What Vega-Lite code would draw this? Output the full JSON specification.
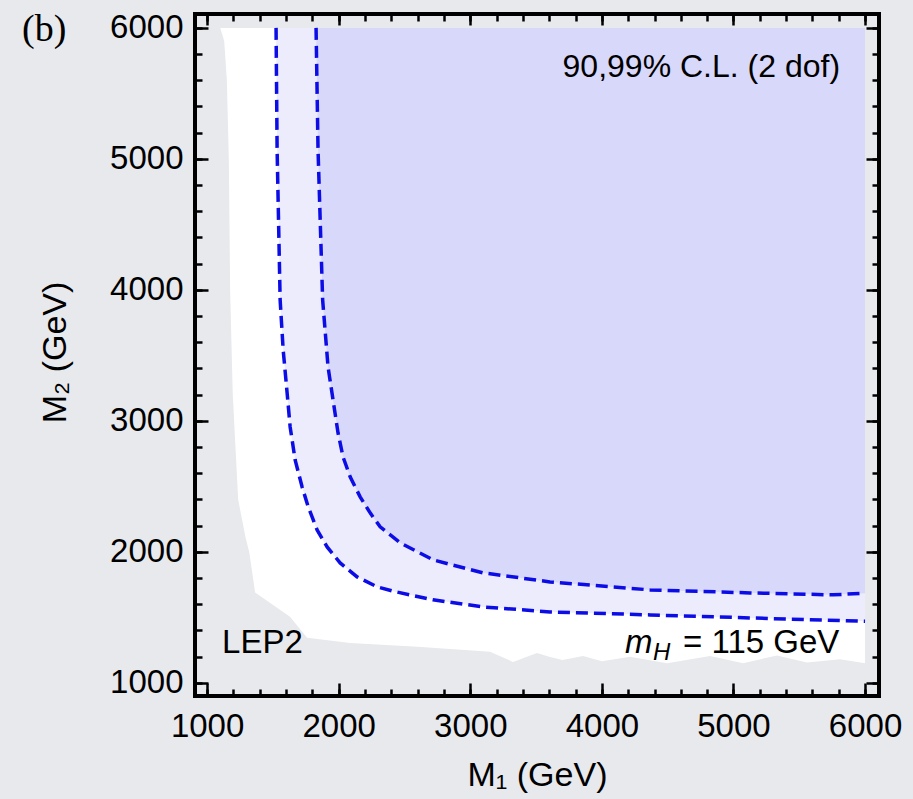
{
  "$schema": "https://vega.github.io/schema/vega-lite/v6.json",
  "width": 684,
  "height": 682,
  "autosize": {"type": "none"},
  "padding": {"left": 195, "top": 14, "right": 34, "bottom": 103},
  "background": "#e8e9ed",
  "title": {"text": "(b)", "font": "Liberation Serif", "fontSize": 38, "fontWeight": "normal", "color": "black", "anchor": "start", "frame": "group", "orient": "top", "offset": -67, "baseline": "alphabetic", "dx": -173},
  "config": {"view": {"stroke": "black", "strokeWidth": 4}},
  "resolve": {"axis": {"x": "independent", "y": "independent"}},
  "layer": [
    {
      "data": {"values": [
        {"M1": 1100, "M2": 6000}, {"M1": 1130, "M2": 5900}, {"M1": 1150, "M2": 5600}, {"M1": 1165, "M2": 5000},
        {"M1": 1175, "M2": 4000}, {"M1": 1195, "M2": 3200}, {"M1": 1236, "M2": 2400}, {"M1": 1290, "M2": 2120},
        {"M1": 1320, "M2": 2000}, {"M1": 1365, "M2": 1690}, {"M1": 1630, "M2": 1504}, {"M1": 1760, "M2": 1344},
        {"M1": 2087, "M2": 1305}, {"M1": 2600, "M2": 1275}, {"M1": 3150, "M2": 1237}, {"M1": 3325, "M2": 1160},
        {"M1": 3507, "M2": 1229}, {"M1": 3606, "M2": 1198}, {"M1": 3700, "M2": 1175}, {"M1": 3857, "M2": 1205},
        {"M1": 4000, "M2": 1165}, {"M1": 4214, "M2": 1200}, {"M1": 4495, "M2": 1150}, {"M1": 4822, "M2": 1205},
        {"M1": 5073, "M2": 1150}, {"M1": 5331, "M2": 1210}, {"M1": 5559, "M2": 1155}, {"M1": 5810, "M2": 1180},
        {"M1": 6000, "M2": 1150}
      ]},
      "mark": {"type": "area", "color": "white", "opacity": 1, "interpolate": "linear"},
      "encoding": {
        "x": {"field": "M1", "type": "quantitative", "scale": {"domain": [908, 6106], "nice": false, "zero": false},
          "axis": {"orient": "bottom", "values": [1000,1200,1400,1600,1800,2000,2200,2400,2600,2800,3000,3200,3400,3600,3800,4000,4200,4400,4600,4800,5000,5200,5400,5600,5800,6000],
            "format": "d", "labelExpr": "datum.value % 1000 === 0 ? datum.label : ''",
            "labelFont": "Liberation Sans", "labelFontSize": 33, "labelColor": "black", "labelPadding": 21, "labelOverlap": false, "labelFlush": false,
            "ticks": true, "tickSize": -7, "tickWidth": 2.5, "tickColor": "black", "domain": false, "grid": false,
            "title": "M₁ (GeV)", "titleFont": "Liberation Sans", "titleFontSize": 34, "titleFontWeight": "normal", "titleColor": "black",
            "titleBaseline": "alphabetic", "titleY": 89, "titleX": 342}},
        "y": {"field": "M2", "type": "quantitative", "scale": {"domain": [900, 6106], "nice": false, "zero": false},
          "axis": {"orient": "left", "values": [1000,1200,1400,1600,1800,2000,2200,2400,2600,2800,3000,3200,3400,3600,3800,4000,4200,4400,4600,4800,5000,5200,5400,5600,5800,6000],
            "format": "d", "labelExpr": "datum.value % 1000 === 0 ? datum.label : ''",
            "labelFont": "Liberation Sans", "labelFontSize": 33, "labelColor": "black", "labelPadding": 19, "labelOverlap": false, "labelFlush": false,
            "ticks": true, "tickSize": -7, "tickWidth": 2.5, "tickColor": "black", "domain": false, "grid": false,
            "title": "M₂ (GeV)", "titleFont": "Liberation Sans", "titleFontSize": 34, "titleFontWeight": "normal", "titleColor": "black",
            "titleBaseline": "alphabetic", "titleAngle": -90, "titleX": -130, "titleY": 338}},
        "y2": {"datum": 6000}
      }
    },
    {
      "data": {"values": [
        {"M1": 1524, "M2": 6000}, {"M1": 1532, "M2": 5069}, {"M1": 1555, "M2": 3924}, {"M1": 1578, "M2": 3542},
        {"M1": 1608, "M2": 3214}, {"M1": 1631, "M2": 2954}, {"M1": 1669, "M2": 2702}, {"M1": 1722, "M2": 2496},
        {"M1": 1768, "M2": 2344}, {"M1": 1836, "M2": 2168}, {"M1": 1912, "M2": 2038}, {"M1": 2011, "M2": 1916},
        {"M1": 2140, "M2": 1809}, {"M1": 2292, "M2": 1733}, {"M1": 2413, "M2": 1700}, {"M1": 2717, "M2": 1634},
        {"M1": 3097, "M2": 1580}, {"M1": 3606, "M2": 1542}, {"M1": 4366, "M2": 1519}, {"M1": 5126, "M2": 1496},
        {"M1": 6000, "M2": 1470}
      ]},
      "mark": {"type": "area", "color": "#ececfc", "opacity": 1},
      "encoding": {
        "x": {"field": "M1", "type": "quantitative", "scale": {"domain": [908, 6106], "nice": false, "zero": false},
          "axis": {"orient": "top", "values": [1000,1200,1400,1600,1800,2000,2200,2400,2600,2800,3000,3200,3400,3600,3800,4000,4200,4400,4600,4800,5000,5200,5400,5600,5800,6000],
            "labels": false, "ticks": true, "tickSize": -7, "tickWidth": 2.5, "tickColor": "black", "domain": false, "grid": false, "title": null}},
        "y": {"field": "M2", "type": "quantitative", "scale": {"domain": [900, 6106], "nice": false, "zero": false},
          "axis": {"orient": "right", "values": [1000,1200,1400,1600,1800,2000,2200,2400,2600,2800,3000,3200,3400,3600,3800,4000,4200,4400,4600,4800,5000,5200,5400,5600,5800,6000],
            "labels": false, "ticks": true, "tickSize": -7, "tickWidth": 2.5, "tickColor": "black", "domain": false, "grid": false, "title": null}},
        "y2": {"datum": 6000}
      }
    },
    {
      "data": {"values": [
        {"M1": 1828, "M2": 6000}, {"M1": 1843, "M2": 5069}, {"M1": 1878, "M2": 3924}, {"M1": 1919, "M2": 3412},
        {"M1": 1957, "M2": 3160}, {"M1": 1995, "M2": 2908}, {"M1": 2033, "M2": 2725}, {"M1": 2087, "M2": 2573},
        {"M1": 2163, "M2": 2420}, {"M1": 2239, "M2": 2298}, {"M1": 2315, "M2": 2191}, {"M1": 2467, "M2": 2069},
        {"M1": 2717, "M2": 1939}, {"M1": 3097, "M2": 1840}, {"M1": 3606, "M2": 1771}, {"M1": 4366, "M2": 1710},
        {"M1": 5126, "M2": 1687}, {"M1": 5757, "M2": 1672}, {"M1": 6000, "M2": 1685}
      ]},
      "mark": {"type": "area", "color": "#d8d8fb", "opacity": 1},
      "encoding": {
        "x": {"field": "M1", "type": "quantitative", "scale": {"domain": [908, 6106], "nice": false, "zero": false},
          "axis": {"orient": "bottom", "values": [1000,2000,3000,4000,5000,6000],
            "labels": false, "ticks": true, "tickSize": -13, "tickWidth": 2.5, "tickColor": "black", "domain": false, "grid": false, "title": null}},
        "y": {"field": "M2", "type": "quantitative", "scale": {"domain": [900, 6106], "nice": false, "zero": false},
          "axis": {"orient": "left", "values": [1000,2000,3000,4000,5000,6000],
            "labels": false, "ticks": true, "tickSize": -13, "tickWidth": 2.5, "tickColor": "black", "domain": false, "grid": false, "title": null}},
        "y2": {"datum": 6000}
      }
    },
    {
      "data": {"values": [
        {"M1": 1828, "M2": 6000}, {"M1": 1843, "M2": 5069}, {"M1": 1878, "M2": 3924}, {"M1": 1919, "M2": 3412},
        {"M1": 1957, "M2": 3160}, {"M1": 1995, "M2": 2908}, {"M1": 2033, "M2": 2725}, {"M1": 2087, "M2": 2573},
        {"M1": 2163, "M2": 2420}, {"M1": 2239, "M2": 2298}, {"M1": 2315, "M2": 2191}, {"M1": 2467, "M2": 2069},
        {"M1": 2717, "M2": 1939}, {"M1": 3097, "M2": 1840}, {"M1": 3606, "M2": 1771}, {"M1": 4366, "M2": 1710},
        {"M1": 5126, "M2": 1687}, {"M1": 5757, "M2": 1672}, {"M1": 6000, "M2": 1685}
      ]},
      "mark": {"type": "line", "color": "#0c0ce6", "strokeWidth": 3.5, "strokeDash": [12, 6]},
      "encoding": {
        "x": {"field": "M1", "type": "quantitative", "scale": {"domain": [908, 6106], "nice": false, "zero": false},
          "axis": {"orient": "top", "values": [1000,2000,3000,4000,5000,6000],
            "labels": false, "ticks": true, "tickSize": -11, "tickWidth": 2.5, "tickColor": "black", "domain": false, "grid": false, "title": null}},
        "y": {"field": "M2", "type": "quantitative", "scale": {"domain": [900, 6106], "nice": false, "zero": false},
          "axis": {"orient": "right", "values": [1000,2000,3000,4000,5000,6000],
            "labels": false, "ticks": true, "tickSize": -13, "tickWidth": 2.5, "tickColor": "black", "domain": false, "grid": false, "title": null}}
      }
    },
    {
      "data": {"values": [
        {"M1": 1524, "M2": 6000}, {"M1": 1532, "M2": 5069}, {"M1": 1555, "M2": 3924}, {"M1": 1578, "M2": 3542},
        {"M1": 1608, "M2": 3214}, {"M1": 1631, "M2": 2954}, {"M1": 1669, "M2": 2702}, {"M1": 1722, "M2": 2496},
        {"M1": 1768, "M2": 2344}, {"M1": 1836, "M2": 2168}, {"M1": 1912, "M2": 2038}, {"M1": 2011, "M2": 1916},
        {"M1": 2140, "M2": 1809}, {"M1": 2292, "M2": 1733}, {"M1": 2413, "M2": 1700}, {"M1": 2717, "M2": 1634},
        {"M1": 3097, "M2": 1580}, {"M1": 3606, "M2": 1542}, {"M1": 4366, "M2": 1519}, {"M1": 5126, "M2": 1496},
        {"M1": 6000, "M2": 1470}
      ]},
      "mark": {"type": "line", "color": "#0c0ce6", "strokeWidth": 3.5, "strokeDash": [12, 6]},
      "encoding": {
        "x": {"field": "M1", "type": "quantitative", "scale": {"domain": [908, 6106], "nice": false, "zero": false}, "axis": null},
        "y": {"field": "M2", "type": "quantitative", "scale": {"domain": [900, 6106], "nice": false, "zero": false}, "axis": null}
      }
    },
    {
      "data": {"values": [
        {"label": "90,99% C.L. (2 dof)", "M1": 5810, "M2": 5626}
      ]},
      "mark": {"type": "text", "align": "right", "baseline": "alphabetic", "font": "Liberation Sans", "fontSize": 32, "color": "black"},
      "encoding": {
        "x": {"field": "M1", "type": "quantitative", "scale": {"domain": [908, 6106], "nice": false, "zero": false}, "axis": null},
        "y": {"field": "M2", "type": "quantitative", "scale": {"domain": [900, 6106], "nice": false, "zero": false}, "axis": null},
        "text": {"field": "label"}
      }
    },
    {
      "data": {"values": [
        {"label": "LEP2", "M1": 1114, "M2": 1229},
        {"label": "= 115 GeV", "M1": 4617, "M2": 1229}
      ]},
      "mark": {"type": "text", "align": "left", "baseline": "alphabetic", "font": "Liberation Sans", "fontSize": 33, "color": "black"},
      "encoding": {
        "x": {"field": "M1", "type": "quantitative", "scale": {"domain": [908, 6106], "nice": false, "zero": false}, "axis": null},
        "y": {"field": "M2", "type": "quantitative", "scale": {"domain": [900, 6106], "nice": false, "zero": false}, "axis": null},
        "text": {"field": "label"}
      }
    },
    {
      "data": {"values": [
        {"label": "m", "M1": 4176, "M2": 1229}
      ]},
      "mark": {"type": "text", "align": "left", "baseline": "alphabetic", "font": "Liberation Sans", "fontStyle": "italic", "fontSize": 33, "color": "black"},
      "encoding": {
        "x": {"field": "M1", "type": "quantitative", "scale": {"domain": [908, 6106], "nice": false, "zero": false}, "axis": null},
        "y": {"field": "M2", "type": "quantitative", "scale": {"domain": [900, 6106], "nice": false, "zero": false}, "axis": null},
        "text": {"field": "label"}
      }
    },
    {
      "data": {"values": [
        {"label": "H", "M1": 4389, "M2": 1229}
      ]},
      "mark": {"type": "text", "align": "left", "baseline": "alphabetic", "dy": 7, "font": "Liberation Sans", "fontStyle": "italic", "fontSize": 24, "color": "black"},
      "encoding": {
        "x": {"field": "M1", "type": "quantitative", "scale": {"domain": [908, 6106], "nice": false, "zero": false}, "axis": null},
        "y": {"field": "M2", "type": "quantitative", "scale": {"domain": [900, 6106], "nice": false, "zero": false}, "axis": null},
        "text": {"field": "label"}
      }
    }
  ]
}
